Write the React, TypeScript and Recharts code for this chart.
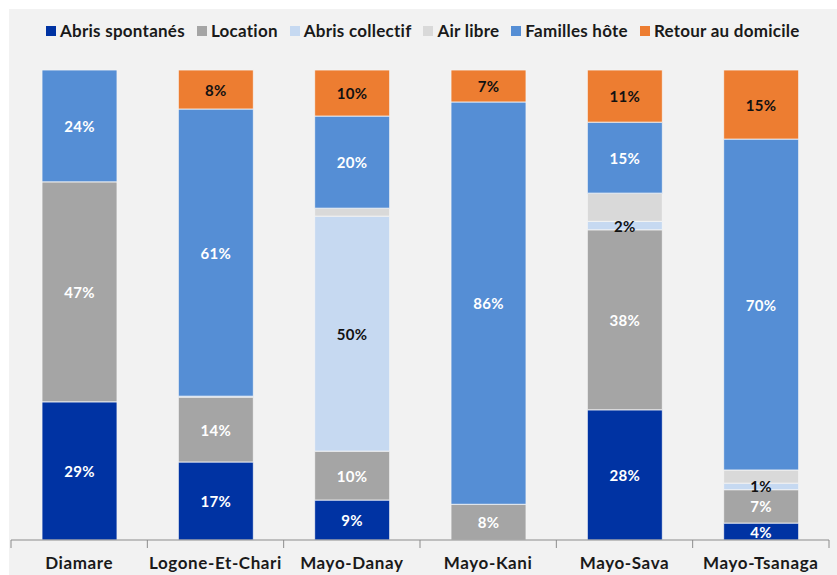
import React from "react"
import { BarChart, Bar, XAxis, YAxis, LabelList } from "recharts"

const regions = ["Diamare", "Logone-Et-Chari", "Mayo-Danay", "Mayo-Kani", "Mayo-Sava", "Mayo-Tsanaga"]
const abrisSpontanes = [29.4, 16.6, 8.5, 0, 27.7, 3.6]
const location = [46.8, 13.8, 10.4, 7.6, 38.3, 7.1]
const abrisCollectif = [0, 0.2, 50, 0, 1.8, 1.4]
const airLibre = [0, 0, 1.7, 0, 6.0, 2.8]
const famillesHote = [23.8, 61.1, 19.6, 85.6, 15.1, 70.4]
const retourDomicile = [0, 8.3, 9.8, 6.8, 11.1, 14.7]

const series = [
  { key: "abris", name: "Abris spontanés", values: abrisSpontanes, color: "#0033A3", labelColor: "#ffffff", showLabel: true },
  { key: "location", name: "Location", values: location, color: "#A5A5A5", labelColor: "#ffffff", showLabel: true },
  { key: "collectif", name: "Abris collectif", values: abrisCollectif, color: "#C6D9F1", labelColor: "#111111", showLabel: true },
  { key: "air", name: "Air libre", values: airLibre, color: "#D9D9D9", labelColor: "#111111", showLabel: false },
  { key: "familles", name: "Familles hôte", values: famillesHote, color: "#558ED5", labelColor: "#ffffff", showLabel: true },
  { key: "retour", name: "Retour au domicile", values: retourDomicile, color: "#ED7D31", labelColor: "#111111", showLabel: true },
]

const data = regions.map((name, i) => {
  const row: Record<string, string | number> = { name }
  series.forEach((s) => (row[s.key] = s.values[i]))
  return row
})

const W = 837
const H = 575
const MARGIN = { top: 70, right: 8, left: 11, bottom: 0 }
const BAND = (W - MARGIN.left - MARGIN.right) / regions.length
const FONT = "Lato, 'Open Sans', sans-serif"

const CategoryTick = (props: any) => {
  const { x, y, payload, index } = props
  return (
    <g>
      <line x1={x - BAND / 2} x2={x - BAND / 2} y1={y} y2={y + 8} stroke="#8c8c8c" />
      {index === regions.length - 1 && (
        <line x1={x + BAND / 2} x2={x + BAND / 2} y1={y} y2={y + 8} stroke="#8c8c8c" />
      )}
      <text
        x={x}
        y={y + 29}
        textAnchor="middle"
        fontFamily={FONT}
        fontWeight={700}
        fontSize={17}
        letterSpacing={0.6}
        fill="#1a1a1a"
      >
        {payload.value}
      </text>
    </g>
  )
}

const makeLabel = (color: string) => (props: any) => {
  const { x, y, width, height, value } = props
  const v = Math.round(Number(value))
  if (!v) return null
  return (
    <text
      x={x + width / 2}
      y={y + height / 2}
      textAnchor="middle"
      dominantBaseline="central"
      fontFamily={FONT}
      fontWeight={700}
      fontSize={15}
      letterSpacing={0.3}
      fill={color}
    >
      {v}%
    </text>
  )
}

export default function App() {
  React.useEffect(() => {
    document.body.style.margin = "0"
  }, [])

  return (
    <div style={{ position: "relative", width: W, height: H, background: "#ffffff" }}>
      <div style={{ position: "absolute", left: 9, top: 9, right: 0, bottom: 0, background: "#F2F2F2" }} />
      <div
        style={{
          position: "absolute",
          top: 20,
          left: 46,
          display: "flex",
          alignItems: "center",
          fontFamily: FONT,
          fontWeight: 700,
          fontSize: 17,
          letterSpacing: 0.25,
          color: "#1a1a1a",
          whiteSpace: "nowrap",
        }}
      >
        {series.map((s) => (
          <div key={s.key} style={{ display: "flex", alignItems: "center", marginRight: 12 }}>
            <span style={{ width: 10, height: 10, background: s.color, marginRight: 4, display: "inline-block" }} />
            <span>{s.name}</span>
          </div>
        ))}
      </div>
      <div style={{ position: "absolute", left: 0, top: 0 }}>
        <BarChart width={W} height={H} data={data} margin={MARGIN} barSize={75}>
          <XAxis
            dataKey="name"
            height={35}
            axisLine={{ stroke: "#8c8c8c" }}
            tickLine={false}
            tickSize={0}
            tickMargin={0}
            interval={0}
            tick={<CategoryTick />}
          />
          <YAxis hide domain={[0, 100]} />
          {series.map((s) => (
            <Bar
              key={s.key}
              dataKey={s.key}
              name={s.name}
              stackId="a"
              fill={s.color}
              stroke="#f5f5f5"
              strokeWidth={0.8}
              isAnimationActive={false}
            >
              {s.showLabel && <LabelList dataKey={s.key} content={makeLabel(s.labelColor)} />}
            </Bar>
          ))}
        </BarChart>
      </div>
    </div>
  )
}
